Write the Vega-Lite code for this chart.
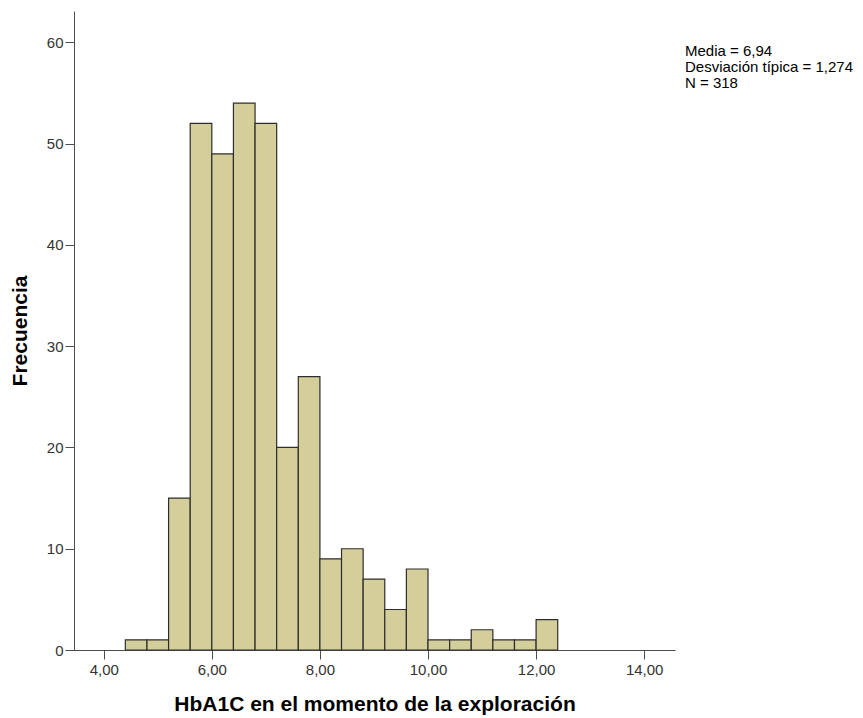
{
  "$schema": "https://vega.github.io/schema/vega-lite/v6.json",
  "width": 601,
  "height": 639,
  "autosize": {"type": "none"},
  "padding": {"left": 74, "top": 11, "right": 188, "bottom": 68},
  "background": "white",
  "config": {
    "view": {"stroke": null},
    "font": "Liberation Sans",
    "axis": {
      "domainColor": "#4d4d4d",
      "tickColor": "#4d4d4d",
      "tickSize": 9,
      "labelFont": "Liberation Sans",
      "labelFontSize": 15,
      "labelColor": "#333333",
      "titleFont": "Liberation Sans",
      "titleFontWeight": "bold",
      "titleFontSize": 21,
      "titleColor": "#000000",
      "grid": false
    }
  },
  "layer": [
    {
      "data": {
        "values": [
          {"bin_start": 4.4, "bin_end": 4.8, "count": 1},
          {"bin_start": 4.8, "bin_end": 5.2, "count": 1},
          {"bin_start": 5.2, "bin_end": 5.6, "count": 15},
          {"bin_start": 5.6, "bin_end": 6.0, "count": 52},
          {"bin_start": 6.0, "bin_end": 6.4, "count": 49},
          {"bin_start": 6.4, "bin_end": 6.8, "count": 54},
          {"bin_start": 6.8, "bin_end": 7.2, "count": 52},
          {"bin_start": 7.2, "bin_end": 7.6, "count": 20},
          {"bin_start": 7.6, "bin_end": 8.0, "count": 27},
          {"bin_start": 8.0, "bin_end": 8.4, "count": 9},
          {"bin_start": 8.4, "bin_end": 8.8, "count": 10},
          {"bin_start": 8.8, "bin_end": 9.2, "count": 7},
          {"bin_start": 9.2, "bin_end": 9.6, "count": 4},
          {"bin_start": 9.6, "bin_end": 10.0, "count": 8},
          {"bin_start": 10.0, "bin_end": 10.4, "count": 1},
          {"bin_start": 10.4, "bin_end": 10.8, "count": 1},
          {"bin_start": 10.8, "bin_end": 11.2, "count": 2},
          {"bin_start": 11.2, "bin_end": 11.6, "count": 1},
          {"bin_start": 11.6, "bin_end": 12.0, "count": 1},
          {"bin_start": 12.0, "bin_end": 12.4, "count": 3}
        ]
      },
      "mark": {"type": "rect", "fill": "#d4cf9a", "stroke": "#2e2e2e", "strokeWidth": 1.2},
      "encoding": {
        "x": {
          "field": "bin_start",
          "type": "quantitative",
          "scale": {"domain": [3.45, 14.57], "nice": false, "zero": false},
          "axis": {
            "title": "HbA1C en el momento de la exploración",
            "titlePadding": 16,
            "values": [4, 6, 8, 10, 12, 14],
            "labelExpr": "replace(format(datum.value, '.2f'), '.', ',')",
            "labelPadding": 3
          }
        },
        "x2": {"field": "bin_end"},
        "y": {
          "field": "count",
          "type": "quantitative",
          "scale": {"domain": [0, 63.1], "nice": false},
          "axis": {
            "title": "Frecuencia",
            "titlePadding": 16,
            "values": [0, 10, 20, 30, 40, 50, 60],
            "labelPadding": 2
          }
        },
        "y2": {"datum": 0}
      }
    },
    {
      "data": {
        "values": [
          {"stat": "Media = 6,94"},
          {"stat": "Desviación típica = 1,274"},
          {"stat": "N = 318"}
        ]
      },
      "mark": {"type": "point", "opacity": 0},
      "encoding": {
        "color": {
          "field": "stat",
          "type": "nominal",
          "sort": null,
          "scale": {"range": ["white", "white", "white"]},
          "legend": {
            "title": null,
            "orient": "none",
            "legendX": 596,
            "legendY": 32,
            "padding": 0,
            "symbolSize": 0,
            "symbolOpacity": 0,
            "symbolStrokeWidth": 0,
            "labelOffset": 0,
            "rowPadding": -1.5,
            "labelFont": "Liberation Sans",
            "labelFontSize": 15,
            "labelColor": "#000000",
            "labelLimit": 300
          }
        }
      }
    }
  ]
}
